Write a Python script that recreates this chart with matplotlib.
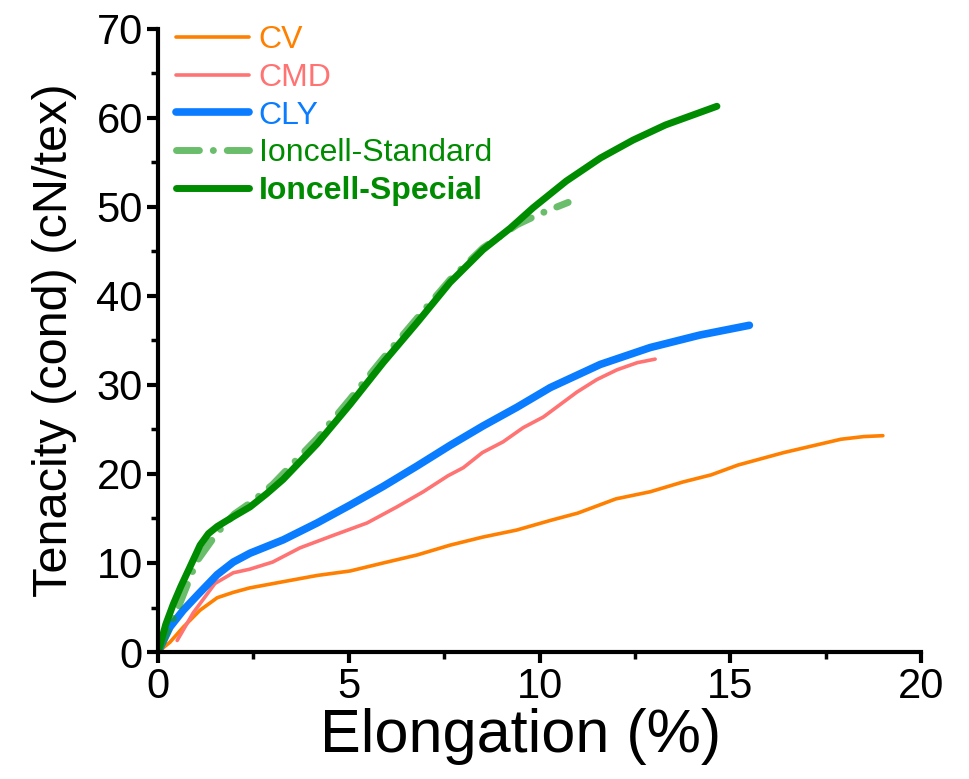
import matplotlib
matplotlib.use("Agg")
import matplotlib.pyplot as plt
from matplotlib.ticker import MultipleLocator

plt.rcParams['font.family'] = ['Liberation Sans', 'DejaVu Sans']

# stress-strain curves, elongation (%) vs tenacity (cN/tex)
cv_x = [0, 0.31, 0.66, 1.1, 1.55, 1.97, 2.4, 3.28, 4.17, 5.03, 5.9, 6.79, 7.65,
        8.5, 9.4, 10.3, 11.0, 12.0, 12.9, 13.76, 14.5, 15.2, 16.4, 17.3, 17.9,
        18.5, 19.0]
cv_y = [0, 1.1, 2.8, 4.7, 6.1, 6.7, 7.2, 7.9, 8.6, 9.1, 10.0, 10.9, 12.0,
        12.9, 13.7, 14.8, 15.6, 17.2, 18.0, 19.1, 19.9, 21.0, 22.4, 23.3, 23.9,
        24.2, 24.3]

cmd_x = [0.5, 0.92, 1.49, 1.97, 2.4, 3.0, 3.72, 4.59, 5.48, 6.26, 6.95, 7.6,
         8.0, 8.5, 9.04, 9.57, 10.1, 10.54, 10.98, 11.5, 12.03, 12.56, 13.03]
cmd_y = [1.3, 4.4, 7.7, 8.9, 9.3, 10.1, 11.7, 13.1, 14.5, 16.3, 18.0, 19.8,
         20.7, 22.4, 23.6, 25.2, 26.4, 27.8, 29.2, 30.6, 31.7, 32.5, 32.9]

cly_x = [0, 0.31, 0.66, 1.1, 1.55, 1.97, 2.41, 3.28, 4.17, 5.03, 5.9, 6.79,
         7.65, 8.52, 9.41, 10.28, 11.59, 12.9, 14.2, 15.5]
cly_y = [0, 2.8, 4.7, 6.7, 8.7, 10.1, 11.1, 12.6, 14.5, 16.5, 18.6, 20.9,
         23.2, 25.4, 27.5, 29.7, 32.3, 34.2, 35.6, 36.7]

standard_x = [0, 0.5, 1.0, 1.55, 2.0, 2.5, 3.0, 4.17, 5.03, 5.9, 6.79, 7.65,
              8.52, 9.41, 10.0, 10.4, 10.75]
standard_y = [0, 4.7, 10.1, 13.4, 15.5, 17.0, 18.8, 24.0, 28.4, 33.0, 37.5,
              41.8, 45.4, 48.0, 49.2, 49.9, 50.5]

special_x = [0, 0.2, 0.4, 0.6, 0.84, 1.1, 1.32, 1.55, 1.97, 2.41, 2.85, 3.28,
             4.17, 5.03, 5.9, 6.79, 7.65, 8.52, 9.23, 9.83, 10.7, 11.6, 12.45,
             13.3, 14.2, 14.65]
special_y = [0, 3.1, 5.4, 7.4, 9.6, 12.0, 13.3, 14.1, 15.2, 16.3, 17.8, 19.4,
             23.4, 27.8, 32.5, 37.0, 41.5, 45.2, 47.6, 49.9, 52.9, 55.5, 57.5,
             59.2, 60.6, 61.3]

colors = ['#ff8000', '#ff7373', '#0a7cff', '#008c00', '#008c00']

fig = plt.figure(figsize=(9.7, 7.79), dpi=100)
ax = fig.add_axes([0.163, 0.163, 0.7865, 0.80])

ax.plot(cv_x, cv_y, color=colors[0], lw=2.6, label='CV', solid_capstyle='round')
ax.plot(cmd_x, cmd_y, color=colors[1], lw=2.6, label='CMD', solid_capstyle='round')
ax.plot(cly_x, cly_y, color=colors[2], lw=5.5, label='CLY', solid_capstyle='round')
ax.plot(standard_x, standard_y, color='#1a9a1a', alpha=0.65, lw=5,
        linestyle=(0, (3.3, 2.0, 0.01, 2.0)), dash_capstyle='round',
        label='Ioncell-Standard')
ax.plot(special_x, special_y, color=colors[4], lw=5, label='Ioncell-Special',
        solid_capstyle='round')

ax.set_xlim(0, 20)
ax.set_ylim(0, 70)
ax.xaxis.set_major_locator(MultipleLocator(5))
ax.xaxis.set_minor_locator(MultipleLocator(2.5))
ax.yaxis.set_major_locator(MultipleLocator(10))
ax.yaxis.set_minor_locator(MultipleLocator(5))

for side in ['top', 'right']:
    ax.spines[side].set_visible(False)
for side in ['left', 'bottom']:
    ax.spines[side].set_linewidth(3)

ax.tick_params(which='major', direction='out', length=8, width=3, labelsize=30, pad=3)
ax.tick_params(which='minor', direction='out', length=5, width=2.5)

ax.set_xlabel('Elongation (%)', fontsize=44, labelpad=-2)
ax.xaxis.set_label_coords(0.475, -0.09)
ax.set_ylabel('Tenacity (cond) (cN/tex)', fontsize=35, labelpad=14)

leg = ax.legend(loc='upper left', bbox_to_anchor=(0.0, 1.034), frameon=False,
                fontsize=23, handlelength=2.3, handletextpad=0.3,
                labelspacing=0.24, borderaxespad=0.15, labelcolor=colors)
leg.get_texts()[4].set_fontweight('bold')

fig.savefig('out.png', dpi=100)
